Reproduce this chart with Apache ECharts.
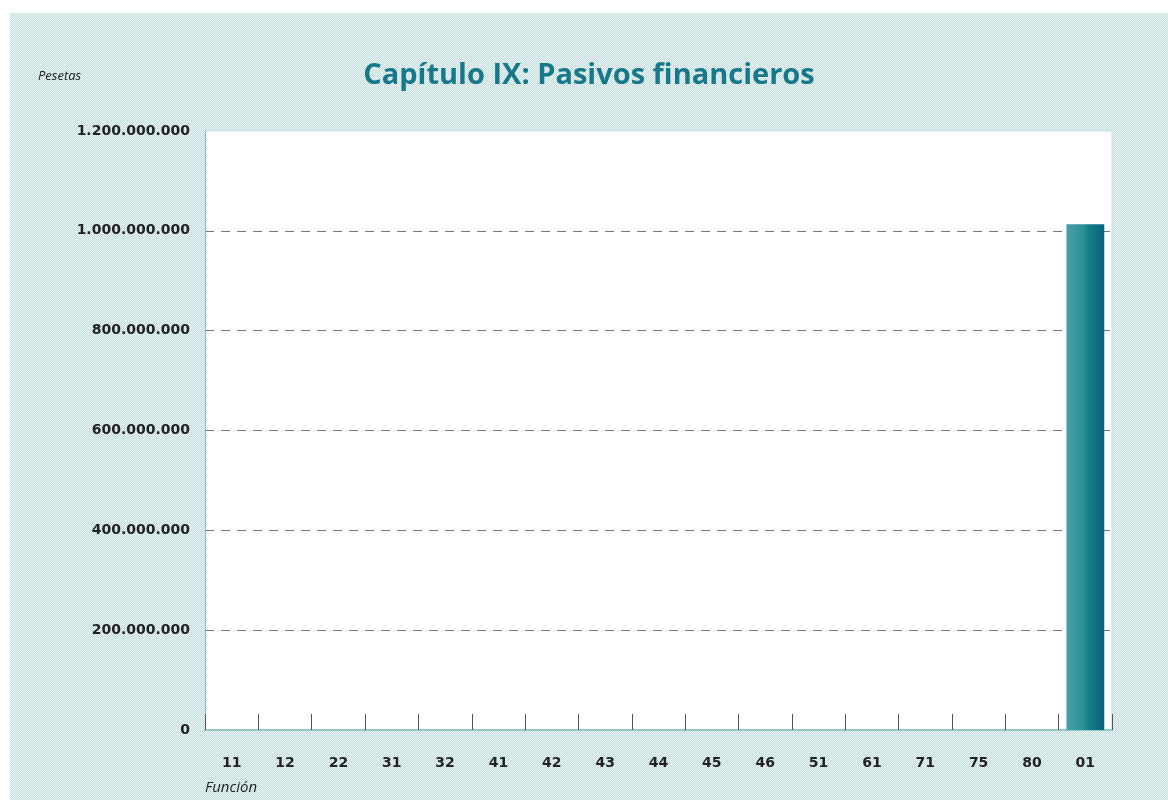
<!DOCTYPE html>
<html lang="es">
<head>
<meta charset="utf-8">
<title>Capítulo IX: Pasivos financieros</title>
<script src="https://cdn.jsdelivr.net/npm/echarts@6/dist/echarts.min.js"></script>
<style>
  html, body { margin: 0; padding: 0; background: #fff; }
  #chart { position: absolute; left: 10px; top: 13px; width: 1158px; height: 787px; }
</style>
</head>
<body>
<div id="chart"></div>
<script>
// datos del gráfico
var funciones = ['11','12','22','31','32','41','42','43','44','45','46','51','61','71','75','80','01'];
var pesetas   = [0,0,0,0,0,0,0,0,0,0,0,0,0,0,0,0,1013000000];
var yMax = 1200000000;
var yPaso = 200000000;

// fondo tramado cian / gris
var pat = document.createElement('canvas');
pat.width = 2; pat.height = 2;
var ctx = pat.getContext('2d');
ctx.fillStyle = '#e4fbfb';
ctx.fillRect(0, 0, 2, 2);
ctx.fillStyle = '#cbd6d6';
ctx.fillRect(0, 0, 1, 1);
ctx.fillRect(1, 1, 1, 1);

function miles(v) {
  return String(v).replace(/\B(?=(\d{3})+(?!\d))/g, '.');
}

var chart = echarts.init(document.getElementById('chart'));
chart.setOption({
  backgroundColor: { image: pat, repeat: 'repeat' },
  animation: false,
  title: {
    text: 'Capítulo IX: Pasivos financieros',
    left: 'center',
    top: 43,
    textStyle: { fontFamily: 'Open Sans', fontSize: 29, fontWeight: 'bold', color: '#16788a' }
  },
  graphic: [
    { type: 'text', left: 28, top: 57,
      style: { text: 'Pesetas', font: 'italic 13px "Open Sans"', fill: '#222' } },
    { type: 'text', left: 195, top: 767,
      style: { text: 'Función', font: 'italic 15px "Open Sans"', fill: '#222' } }
  ],
  grid: {
    left: 195, right: 56, top: 118, bottom: 70,
    show: true, backgroundColor: '#ffffff',
    borderWidth: 1, borderColor: '#bfe4ea'
  },
  xAxis: {
    type: 'category',
    data: funciones,
    boundaryGap: true,
    axisLine: { lineStyle: { color: '#93c9c9', width: 2 } },
    axisTick: { show: true, inside: true, length: 16, lineStyle: { color: '#555', width: 1 } },
    axisLabel: { margin: 26, fontFamily: 'DejaVu Sans', fontSize: 14, fontWeight: 'bold', color: '#222' }
  },
  yAxis: {
    type: 'value',
    min: 0, max: yMax, interval: yPaso,
    axisLine: { show: true, lineStyle: { color: '#7fb3d8', type: 'dotted', width: 1 } },
    axisTick: { show: false },
    axisLabel: {
      margin: 15, fontFamily: 'DejaVu Sans', fontSize: 14, fontWeight: 'bold', color: '#222',
      formatter: function (v) { return miles(v); }
    },
    splitLine: {
      show: true,
      showMinLine: false,
      showMaxLine: false,
      lineStyle: { color: '#777', type: [9, 7], width: 1 }
    }
  },
  series: [{
    type: 'bar',
    data: pesetas,
    barWidth: '71%',
    itemStyle: {
      color: new echarts.graphic.LinearGradient(0, 0, 1, 0, [
        { offset: 0, color: '#4a9fa8' },
        { offset: 0.45, color: '#2a9096' },
        { offset: 0.6, color: '#137f8a' },
        { offset: 1, color: '#0a5f7a' }
      ])
    }
  }]
});
</script>
</body>
</html>
